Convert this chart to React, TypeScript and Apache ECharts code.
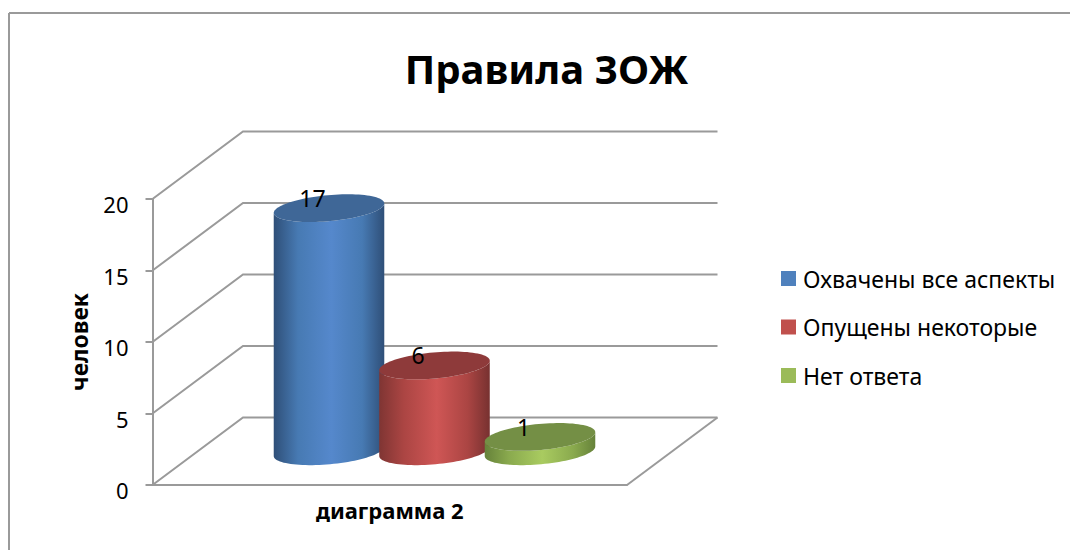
import React, { useEffect, useRef } from "react";
import * as echarts from "echarts";

const categories = ["диаграмма 2"];
const seriesNames = ["Охвачены все аспекты", "Опущены некоторые", "Нет ответа"];
const seriesValues = [17, 6, 1];
const yTicks = [0, 5, 10, 15, 20];
const legendColors = ["#4f81bd", "#c0504d", "#9bbb59"];
const topColors = ["#3f6797", "#8e3a3a", "#748f45"];
const bodyStops = [
  ["#2f4f78", "#477ab3", "#5588cc", "#477ab3", "#2f4f78"],
  ["#7f3533", "#ab4543", "#cf5655", "#ab4543", "#773130"],
  ["#66823a", "#8aaa4e", "#a9cb60", "#8aaa4e", "#66823a"],
];

const FONT = "'Noto Sans', sans-serif";
const GRAY = "#9a9a9a";
const DEPTH_X = 90.5;
const DEPTH_Y = 67.5;
const BAR_STEP = 105.5;
const RX = 55.5;
const RY = 13;
const TILT = (-5.2 * Math.PI) / 180;

function ellipsePoints(cx: number, cy: number) {
  const pts: number[][] = [];
  for (let i = 0; i < 96; i++) {
    const a = (i / 96) * Math.PI * 2;
    const ex = RX * Math.cos(a);
    const ey = RY * Math.sin(a);
    pts.push([
      cx + ex * Math.cos(TILT) - ey * Math.sin(TILT),
      cy + ex * Math.sin(TILT) + ey * Math.cos(TILT),
    ]);
  }
  return pts;
}

function cylinderBody(cx: number, topY: number, baseY: number) {
  const pts: number[][] = [];
  const n = 48;
  for (let i = 0; i <= n; i++) {
    const a = (i / n) * Math.PI;
    const ex = RX * Math.cos(a);
    const ey = RY * Math.sin(a);
    pts.push([
      cx + ex * Math.cos(TILT) - ey * Math.sin(TILT),
      baseY + ex * Math.sin(TILT) + ey * Math.cos(TILT),
    ]);
  }
  for (let i = 0; i <= n; i++) {
    const a = Math.PI - (i / n) * Math.PI;
    const ex = RX * Math.cos(a);
    const ey = RY * Math.sin(a);
    pts.push([
      cx + ex * Math.cos(TILT) - ey * Math.sin(TILT),
      topY + ex * Math.sin(TILT) + ey * Math.cos(TILT),
    ]);
  }
  return pts;
}

function renderWall(params: any, api: any) {
  const sys = params.coordSys;
  const y = api.coord([0, api.value(1)])[1];
  const x0 = sys.x;
  const x1 = sys.x + DEPTH_X;
  const y1 = y - DEPTH_Y;
  const x2 = sys.x + sys.width + DEPTH_X;
  const lineStyle = { stroke: GRAY, lineWidth: 2, fill: "none" };
  const children: any[] = [
    {
      type: "polyline",
      shape: { points: [[x0, y], [x1, y1], [x2, y1]] },
      style: lineStyle,
    },
  ];
  if (api.value(1) === 0) {
    children.push({
      type: "line",
      shape: { x1: x2, y1, x2: sys.x + sys.width, y2: y },
      style: lineStyle,
    });
  }
  return { type: "group", children };
}

function makeRenderCylinder(index: number) {
  return (params: any, api: any) => {
    const sys = params.coordSys;
    const value = api.value(1);
    const top = api.coord([0, value]);
    const base = api.coord([0, 0]);
    const cx = sys.x + sys.width / 2 + DEPTH_X / 2 + (index - 1) * BAR_STEP - 0.5;
    const baseY = base[1] - DEPTH_Y / 2;
    const topY = top[1] - DEPTH_Y / 2;
    const s = bodyStops[index];
    return {
      type: "group",
      children: [
        {
          type: "polygon",
          shape: { points: cylinderBody(cx, topY, baseY) },
          style: {
            fill: new echarts.graphic.LinearGradient(0, 0, 1, 0, [
              { offset: 0, color: s[0] },
              { offset: 0.22, color: s[1] },
              { offset: 0.52, color: s[2] },
              { offset: 0.8, color: s[3] },
              { offset: 1, color: s[4] },
            ]),
          },
        },
        {
          type: "polygon",
          shape: { points: ellipsePoints(cx, topY) },
          style: { fill: topColors[index] },
        },
        {
          type: "text",
          style: {
            text: String(value),
            x: cx - 16.5,
            y: topY - 10,
            align: "center",
            verticalAlign: "middle",
            fill: "#000",
            font: `23px ${FONT}`,
          },
        },
      ],
    };
  };
}

export default function App() {
  const ref = useRef<HTMLDivElement>(null);
  useEffect(() => {
    const chart = echarts.init(ref.current!, null, { renderer: "svg" });
    chart.setOption({
      animation: false,
      backgroundColor: "#fff",
      title: {
        text: "Правила ЗОЖ",
        left: 541.5,
        top: 43,
        textAlign: "center",
        textStyle: { fontFamily: FONT, fontSize: 40, fontWeight: "bold", color: "#000" },
      },
      grid: { left: 152.5, top: 199, width: 474.5, height: 286 },
      xAxis: {
        type: "category",
        data: categories,
        axisLine: { show: true, lineStyle: { color: GRAY, width: 2 } },
        axisTick: { show: false },
        axisLabel: {
          margin: 14,
          color: "#000",
          fontFamily: FONT,
          fontSize: 22,
          fontWeight: "bold",
        },
      },
      yAxis: {
        type: "value",
        min: 0,
        max: 20,
        interval: 5,
        name: "человек",
        nameLocation: "middle",
        nameGap: 62,
        nameRotate: 90,
        nameTextStyle: { color: "#000", fontFamily: FONT, fontSize: 23, fontWeight: "bold" },
        axisLine: { show: true, lineStyle: { color: GRAY, width: 2 } },
        axisTick: { show: true, length: 7, lineStyle: { color: GRAY, width: 2 } },
        splitLine: { show: false },
        axisLabel: {
          margin: 24,
          color: "#000",
          fontFamily: FONT,
          fontSize: 22,
          verticalAlign: "top",
          lineHeight: 10,
        },
      },
      legend: {
        orient: "vertical",
        left: 781,
        top: 267,
        padding: 0,
        icon: "rect",
        itemWidth: 15,
        itemHeight: 15,
        itemGap: 25.5,
        data: seriesNames,
        textStyle: { color: "#000", fontFamily: FONT, fontSize: 23, padding: [0, 0, 0, 2] },
      },
      graphic: [
        { type: "line", shape: { x1: 9, y1: 13, x2: 1070, y2: 13 }, style: { stroke: GRAY, lineWidth: 2 } },
        { type: "line", shape: { x1: 9, y1: 13, x2: 9, y2: 550 }, style: { stroke: GRAY, lineWidth: 2 } },
      ],
      series: [
        {
          type: "custom",
          name: "wall",
          z: 1,
          silent: true,
          renderItem: renderWall,
          data: yTicks.map((t) => [0, t]),
          encode: { x: 0, y: 1 },
        },
        ...seriesNames.map((name, i) => ({
          type: "custom",
          name,
          z: 3 + i,
          itemStyle: { color: legendColors[i] },
          renderItem: makeRenderCylinder(i),
          data: [[0, seriesValues[i]]],
          encode: { x: 0, y: 1 },
        })),
      ],
    });
    return () => chart.dispose();
  }, []);
  return (
    <div
      ref={ref}
      style={{ position: "absolute", left: 0, top: 0, width: 1070, height: 550 }}
    />
  );
}
